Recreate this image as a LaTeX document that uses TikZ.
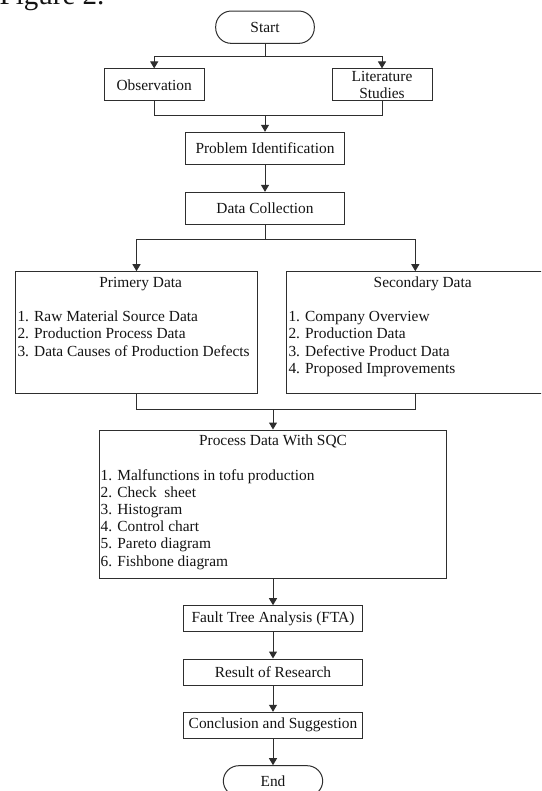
\documentclass[tikz,border=0pt]{standalone}
\usepackage{fontspec}
\setmainfont{Liberation Serif}
\usetikzlibrary{arrows.meta,calc}
\definecolor{ink}{HTML}{141414}
\definecolor{edge}{HTML}{2E2E2E}
\tikzset{
  txt/.style={font=\fontsize{15.4}{17.2}\selectfont, text=ink},
  box/.style={draw=edge, line width=1pt, txt, inner sep=0pt, align=center},
  term/.style={box, rounded corners=15.5pt},
  item/.style={txt, anchor=base west, inner sep=0pt},
  ttl/.style={txt, anchor=base, inner sep=0pt},
  conn/.style={draw=edge, line width=1pt},
  arr/.style={conn, -{Triangle[length=7pt,width=8pt]}}
}
\begin{document}
\begin{tikzpicture}[x=1pt,y=-1pt]
\useasboundingbox (0,0) rectangle (541,791);
\clip (0,0) rectangle (541,791);
\fill[white] (0,0) rectangle (541,791);

\node[anchor=base west, inner sep=0pt, text=ink, font=\fontsize{29}{32}\selectfont] (fig) at (-0.5,4.7) {Figure 2.};

% nodes
\node[term, minimum width=98.6pt, minimum height=32.3pt] (start) at (265,27.2) {Start};
\node[box, minimum width=99.7pt, minimum height=31.7pt] (obs) at (154.2,84.8) {Observation};
\node[box, minimum width=100pt, minimum height=31.7pt] (lit) at (382,84.8) {Literature\\Studies};
\node[box, minimum width=158.6pt, minimum height=32.4pt] (prob) at (265,148.5) {Problem Identification};
\node[box, minimum width=158.6pt, minimum height=31.7pt] (dc) at (265,208.2) {Data Collection};
\node[box, minimum width=241.6pt, minimum height=121.6pt] (prim) at (136.5,332.5) {};
\node[box, minimum width=272.3pt, minimum height=121.6pt] (sec) at (422.85,332.5) {};
\node[box, minimum width=347.6pt, minimum height=148.3pt] (sqc) at (273,504.15) {};
\node[box, minimum width=179.4pt, minimum height=26pt] (fta) at (273,618.7) {Fault Tree Analysis (FTA)};
\node[box, minimum width=179.4pt, minimum height=26pt] (res) at (273,672) {Result of Research};
\node[box, minimum width=179.4pt, minimum height=26pt] (con) at (273,725.3) {Conclusion and Suggestion};
\node[term, minimum width=99.4pt, minimum height=30.6pt] (end) at (273,781) {End};

% box contents
\node[ttl] (primT) at (140.7,287.3) {Primery Data};
\foreach \t [count=\i] in {Raw Material Source Data, Production Process Data, Data Causes of Production Defects}
  \node[item] (p\i) at (17.3,{321.7+17.2*(\i-1)}) {\i. \t};

\node[ttl] (secT) at (422.7,287.3) {Secondary Data};
\foreach \t [count=\i] in {Company Overview, Production Data, Defective Product Data, Proposed Improvements}
  \node[item] (s\i) at (288.3,{321.7+17.2*(\i-1)}) {\i. \t};

\node[ttl] (sqcT) at (273,445.6) {Process Data With SQC};
\foreach \t [count=\i] in {Malfunctions in tofu production, Check\ \ sheet, Histogram, Control chart, Pareto diagram, Fishbone diagram}
  \node[item] (q\i) at (100.5,{480+17.2*(\i-1)}) {\i. \t};

% connectors
\coordinate (j1) at (265,56.7);
\coordinate (j2) at (265,116);
\coordinate (j3) at (265,239.3);
\coordinate (j4) at (273,409);
\coordinate (sIn) at (415.3,332.5);

\draw[conn] (start.south) -- (j1);
\draw[arr] (j1) -| (obs.north);
\draw[arr] (j1) -| (lit.north);
\draw[conn] (obs.south) -- (obs.south |- j2) -| (lit.south);
\draw[arr] (j2) -- (prob.north);
\draw[arr] (prob.south) -- (dc.north);
\draw[conn] (dc.south) -- (j3);
\draw[arr] (j3) -| (prim.north);
\draw[arr] (j3) -| (sIn |- sec.north);
\draw[conn] (prim.south) -- (prim.south |- j4) -| (sIn |- sec.south);
\draw[arr] (j4) -- (sqc.north);
\draw[arr] (sqc.south) -- (fta.north);
\draw[arr] (fta.south) -- (res.north);
\draw[arr] (res.south) -- (con.north);
\draw[arr] (con.south) -- (end.north);
\end{tikzpicture}
\end{document}
